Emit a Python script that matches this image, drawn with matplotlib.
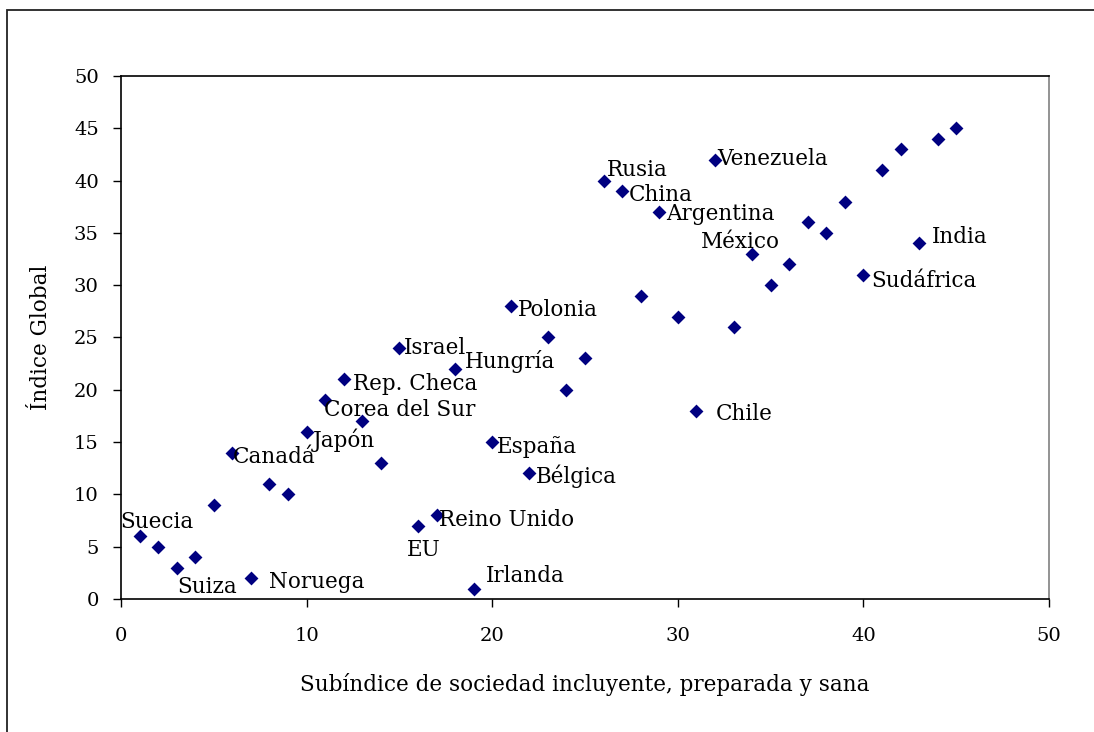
import matplotlib.pyplot as plt
from matplotlib.patches import Rectangle

plt.rcParams['font.family'] = ['DejaVu Serif']

# subindice (x) e indice global (y)
x = [1, 2, 3, 4, 5, 6, 7, 8, 9, 10, 11, 12, 13, 14, 15, 16, 17, 18, 19, 20, 21, 22, 23,
     24, 25, 26, 27, 28, 29, 30, 31, 32, 33, 34, 35, 36, 37, 38, 39, 40, 41, 42, 43, 44, 45]
y = [6, 5, 3, 4, 9, 14, 2, 11, 10, 16, 19, 21, 17, 13, 24, 7, 8, 22, 1, 15, 28, 12, 25,
     20, 23, 40, 39, 29, 37, 27, 18, 42, 26, 33, 30, 32, 36, 35, 38, 31, 41, 43, 34, 44, 45]

paises = ['Suecia', 'Suiza', 'Noruega', 'Canadá', 'Japón', 'Corea del Sur', 'Rep. Checa',
          'Israel', 'Hungría', 'EU', 'Reino Unido', 'Irlanda', 'España', 'Bélgica', 'Polonia',
          'Rusia', 'China', 'Argentina', 'Venezuela', 'México', 'Chile', 'Sudáfrica', 'India']
pais_x = [1, 3, 7, 6, 10, 11, 12, 15, 18, 16, 17, 19, 20, 22, 21, 26, 27, 29, 32, 34, 31, 40, 43]
pais_y = [6, 3, 2, 14, 16, 19, 21, 24, 22, 7, 8, 1, 15, 12, 28, 40, 39, 37, 42, 33, 18, 31, 34]
# desplazamiento de la etiqueta (pixeles)
off_x = [-19, 1, 18, 0, 6, -1, 9, 4, 10, -11, 2, 12, 5, 7, 7, 3, 7, 7, 2, -51, 19, 8, 13]
off_y = [14, -19, -4, -4, -9, -10, -5, 0, 7, -24, -5, 13, -5, -3, -4, 11, -4, -2, 1, 12, -3, -6, 6]

fig = plt.figure(figsize=(10.94, 7.32), dpi=100)
fig.patches.append(Rectangle((7 / 1094, -0.1), 1.1, 1.1 - 10 / 732, transform=fig.transFigure,
                             fill=False, edgecolor='#222222', linewidth=1.3))

ax = fig.add_axes([0.1106, 0.1817, 0.8483, 0.7145])
ax.scatter(x, y, marker='D', s=50, color='#000080', linewidths=0, zorder=3)

for nombre, px, py, dx, dy in zip(paises, pais_x, pais_y, off_x, off_y):
    ax.annotate(nombre, (px, py), xytext=(dx, dy), textcoords='offset pixels',
                ha='left', va='center', fontsize=15.5, color='black')

ax.set_xlim(0, 50)
ax.set_ylim(0, 50)
ax.set_xticks(range(0, 51, 10))
ax.set_yticks(range(0, 51, 5))
ax.tick_params(direction='out', length=6, width=1, labelsize=14)
ax.tick_params(axis='x', pad=14)
ax.tick_params(axis='y', pad=10)
for s in ax.spines.values():
    s.set_linewidth(1.2)
ax.spines['right'].set_color('#808080')

ax.set_xlabel('Subíndice de sociedad incluyente, preparada y sana', fontsize=15.5, labelpad=20)
ax.set_ylabel('Índice Global', fontsize=15.5, labelpad=16)

fig.savefig('out.png', dpi=100)
